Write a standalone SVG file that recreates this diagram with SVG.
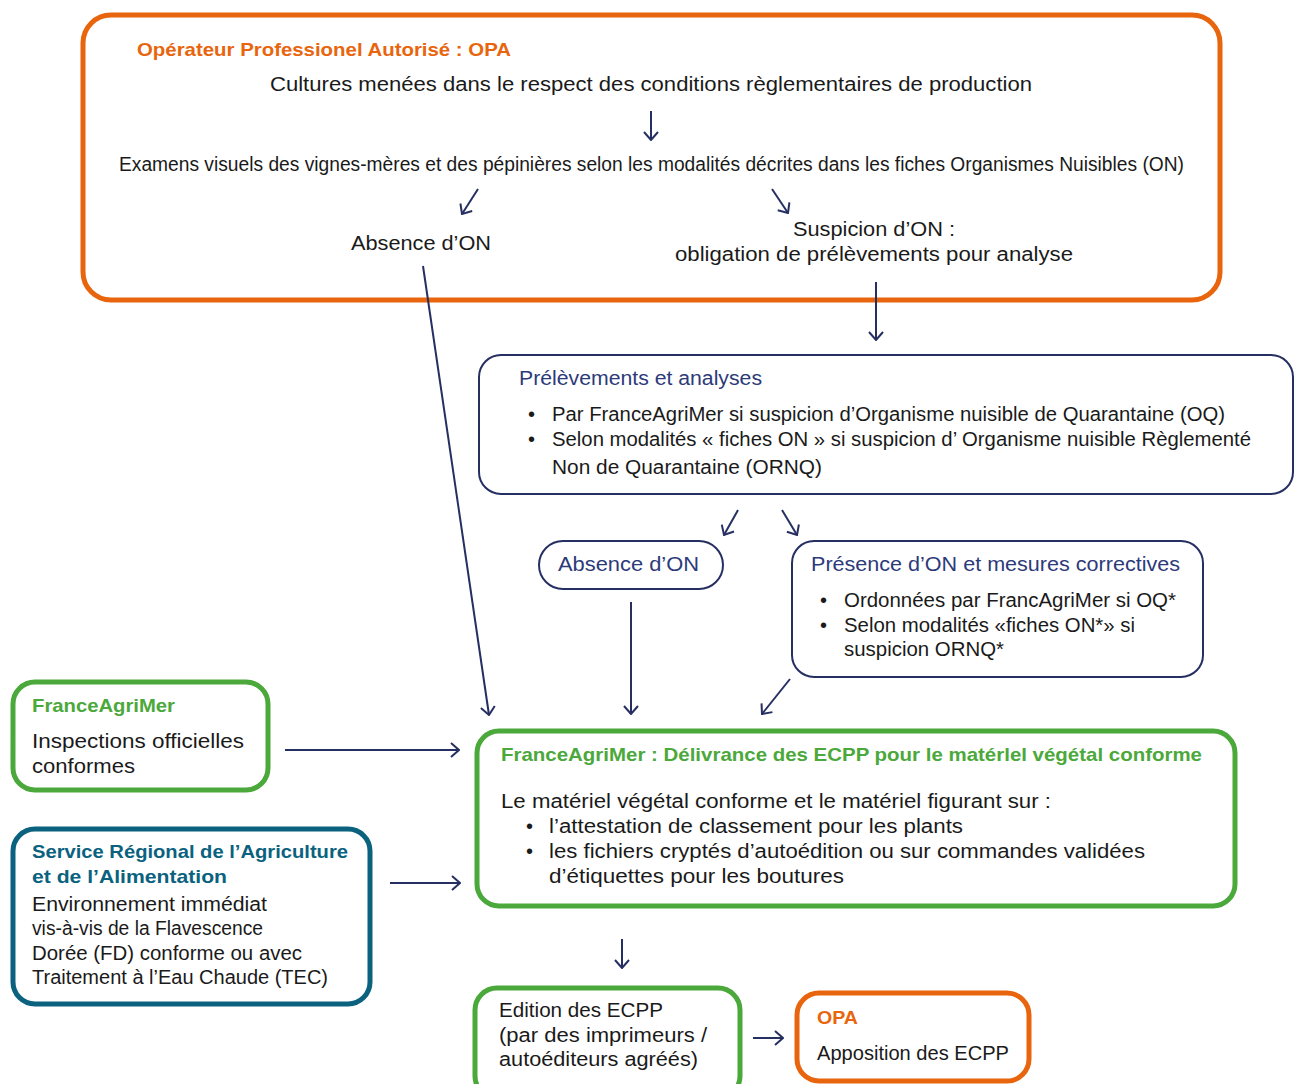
<svg xmlns="http://www.w3.org/2000/svg" width="1297" height="1084" viewBox="0 0 1297 1084">
<defs>
<marker id="ah" viewBox="0 0 10 16" refX="9" refY="8" markerWidth="10" markerHeight="16" markerUnits="userSpaceOnUse" orient="auto">
<path d="M1,1 L9,8 L1,15" fill="none" stroke="#262F62" stroke-width="2"/>
</marker>
<style>
text{font-family:"Liberation Sans",Arial,sans-serif;font-size:20px;fill:#1a1a1a}
.t{font-weight:bold;font-size:19px}
.or{fill:#E8650E}.gr{fill:#4BA83B}.te{fill:#0B627F}.nv{fill:#2D3A7A}
.bo{fill:#fff;stroke:#E8650E;stroke-width:5}
.bg{fill:#fff;stroke:#4BA83B;stroke-width:5}
.bt{fill:#fff;stroke:#0B627F;stroke-width:5}
.bn{fill:#fff;stroke:#262F62;stroke-width:2}
.c line{stroke:#262F62;stroke-width:2;marker-end:url(#ah)}
</style>
</defs>
<rect width="1297" height="1084" fill="#fff"/>

<g id="opa-top">
<rect class="bo" x="83" y="15" width="1137" height="285" rx="28"/>
<text class="t or" x="137" y="56" textLength="374" lengthAdjust="spacingAndGlyphs">Opérateur Professionel Autorisé : OPA</text>
<text x="270" y="91" textLength="762" lengthAdjust="spacingAndGlyphs">Cultures menées dans le respect des conditions règlementaires de production</text>
<text x="119" y="171" textLength="1065" lengthAdjust="spacingAndGlyphs">Examens visuels des vignes-mères et des pépinières selon les modalités décrites dans les fiches Organismes Nuisibles (ON)</text>
<text x="351" y="250" textLength="140" lengthAdjust="spacingAndGlyphs">Absence d’ON</text>
<text x="793" y="236" textLength="162" lengthAdjust="spacingAndGlyphs">Suspicion d’ON :</text>
<text x="675" y="261" textLength="398" lengthAdjust="spacingAndGlyphs">obligation de prélèvements pour analyse</text>
</g>

<g id="prelevements">
<rect class="bn" x="479" y="355" width="814" height="139" rx="22"/>
<text class="nv" x="519" y="385" textLength="243" lengthAdjust="spacingAndGlyphs">Prélèvements et analyses</text>
<text x="528" y="421">•</text>
<text x="552" y="421" textLength="673" lengthAdjust="spacingAndGlyphs">Par FranceAgriMer si suspicion d’Organisme nuisible de Quarantaine (OQ)</text>
<text x="528" y="446">•</text>
<text x="552" y="446" textLength="699" lengthAdjust="spacingAndGlyphs">Selon modalités « fiches ON » si suspicion d’ Organisme nuisible Règlementé</text>
<text x="552" y="474" textLength="270" lengthAdjust="spacingAndGlyphs">Non de Quarantaine (ORNQ)</text>
</g>

<g id="absence">
<rect class="bn" x="539" y="541" width="184" height="48" rx="24"/>
<text class="nv" x="558" y="571" textLength="141" lengthAdjust="spacingAndGlyphs">Absence d’ON</text>
</g>

<g id="presence">
<rect class="bn" x="792" y="541" width="411" height="136" rx="22"/>
<text class="nv" x="811" y="571" textLength="369" lengthAdjust="spacingAndGlyphs">Présence d’ON et mesures correctives</text>
<text x="820" y="607">•</text>
<text x="844" y="607" textLength="332" lengthAdjust="spacingAndGlyphs">Ordonnées par FrancAgriMer si OQ*</text>
<text x="820" y="632">•</text>
<text x="844" y="632" textLength="291" lengthAdjust="spacingAndGlyphs">Selon modalités «fiches ON*» si</text>
<text x="844" y="656" textLength="160" lengthAdjust="spacingAndGlyphs">suspicion ORNQ*</text>
</g>

<g id="fam-left">
<rect class="bg" x="13" y="682" width="255" height="108" rx="22"/>
<text class="t gr" x="32" y="712" textLength="143" lengthAdjust="spacingAndGlyphs">FranceAgriMer</text>
<text x="32" y="748" textLength="212" lengthAdjust="spacingAndGlyphs">Inspections officielles</text>
<text x="32" y="773" textLength="103" lengthAdjust="spacingAndGlyphs">conformes</text>
</g>

<g id="sral">
<rect class="bt" x="13" y="829" width="357" height="175" rx="22"/>
<text class="t te" x="32" y="858" textLength="316" lengthAdjust="spacingAndGlyphs">Service Régional de l’Agriculture</text>
<text class="t te" x="32" y="883" textLength="195" lengthAdjust="spacingAndGlyphs">et de l’Alimentation</text>
<text x="32" y="911" textLength="235" lengthAdjust="spacingAndGlyphs">Environnement immédiat</text>
<text x="32" y="935" textLength="231" lengthAdjust="spacingAndGlyphs">vis-à-vis de la Flavescence</text>
<text x="32" y="960" textLength="270" lengthAdjust="spacingAndGlyphs">Dorée (FD) conforme ou avec</text>
<text x="32" y="984" textLength="296" lengthAdjust="spacingAndGlyphs">Traitement à l’Eau Chaude (TEC)</text>
</g>

<g id="fam-main">
<rect class="bg" x="477" y="731" width="758" height="175" rx="22"/>
<text class="t gr" x="501" y="761" textLength="701" lengthAdjust="spacingAndGlyphs">FranceAgriMer : Délivrance des ECPP pour le matérlel végétal conforme</text>
<text x="501" y="808" textLength="550" lengthAdjust="spacingAndGlyphs">Le matériel végétal conforme et le matériel figurant sur :</text>
<text x="526" y="833">•</text>
<text x="549" y="833" textLength="414" lengthAdjust="spacingAndGlyphs">l’attestation de classement pour les plants</text>
<text x="526" y="858">•</text>
<text x="549" y="858" textLength="596" lengthAdjust="spacingAndGlyphs">les fichiers cryptés d’autoédition ou sur commandes validées</text>
<text x="549" y="883" textLength="295" lengthAdjust="spacingAndGlyphs">d’étiquettes pour les boutures</text>
</g>

<g id="edition">
<rect class="bg" x="475" y="988" width="265" height="110" rx="22"/>
<text x="499" y="1017" textLength="164" lengthAdjust="spacingAndGlyphs">Edition des ECPP</text>
<text x="499" y="1042" textLength="208" lengthAdjust="spacingAndGlyphs">(par des imprimeurs /</text>
<text x="499" y="1066" textLength="199" lengthAdjust="spacingAndGlyphs">autoéditeurs agréés)</text>
</g>

<g id="opa-bottom">
<rect class="bo" x="797" y="993" width="232" height="88" rx="22"/>
<text class="t or" x="817" y="1024" textLength="41" lengthAdjust="spacingAndGlyphs">OPA</text>
<text x="817" y="1060" textLength="192" lengthAdjust="spacingAndGlyphs">Apposition des ECPP</text>
</g>

<g id="connectors" class="c">
<line x1="651" y1="111" x2="651" y2="140"/>
<line x1="478" y1="189" x2="462" y2="214"/>
<line x1="772" y1="189" x2="788" y2="213"/>
<line x1="423" y1="266" x2="489" y2="715"/>
<line x1="876" y1="282" x2="876" y2="340"/>
<line x1="738" y1="510" x2="724" y2="535"/>
<line x1="782" y1="510" x2="797" y2="535"/>
<line x1="631" y1="602" x2="631" y2="714"/>
<line x1="790" y1="679" x2="762" y2="714"/>
<line x1="285" y1="750" x2="459" y2="750"/>
<line x1="390" y1="883" x2="460" y2="883"/>
<line x1="622" y1="939" x2="622" y2="968"/>
<line x1="753" y1="1038" x2="783" y2="1038"/>
</g>
</svg>
